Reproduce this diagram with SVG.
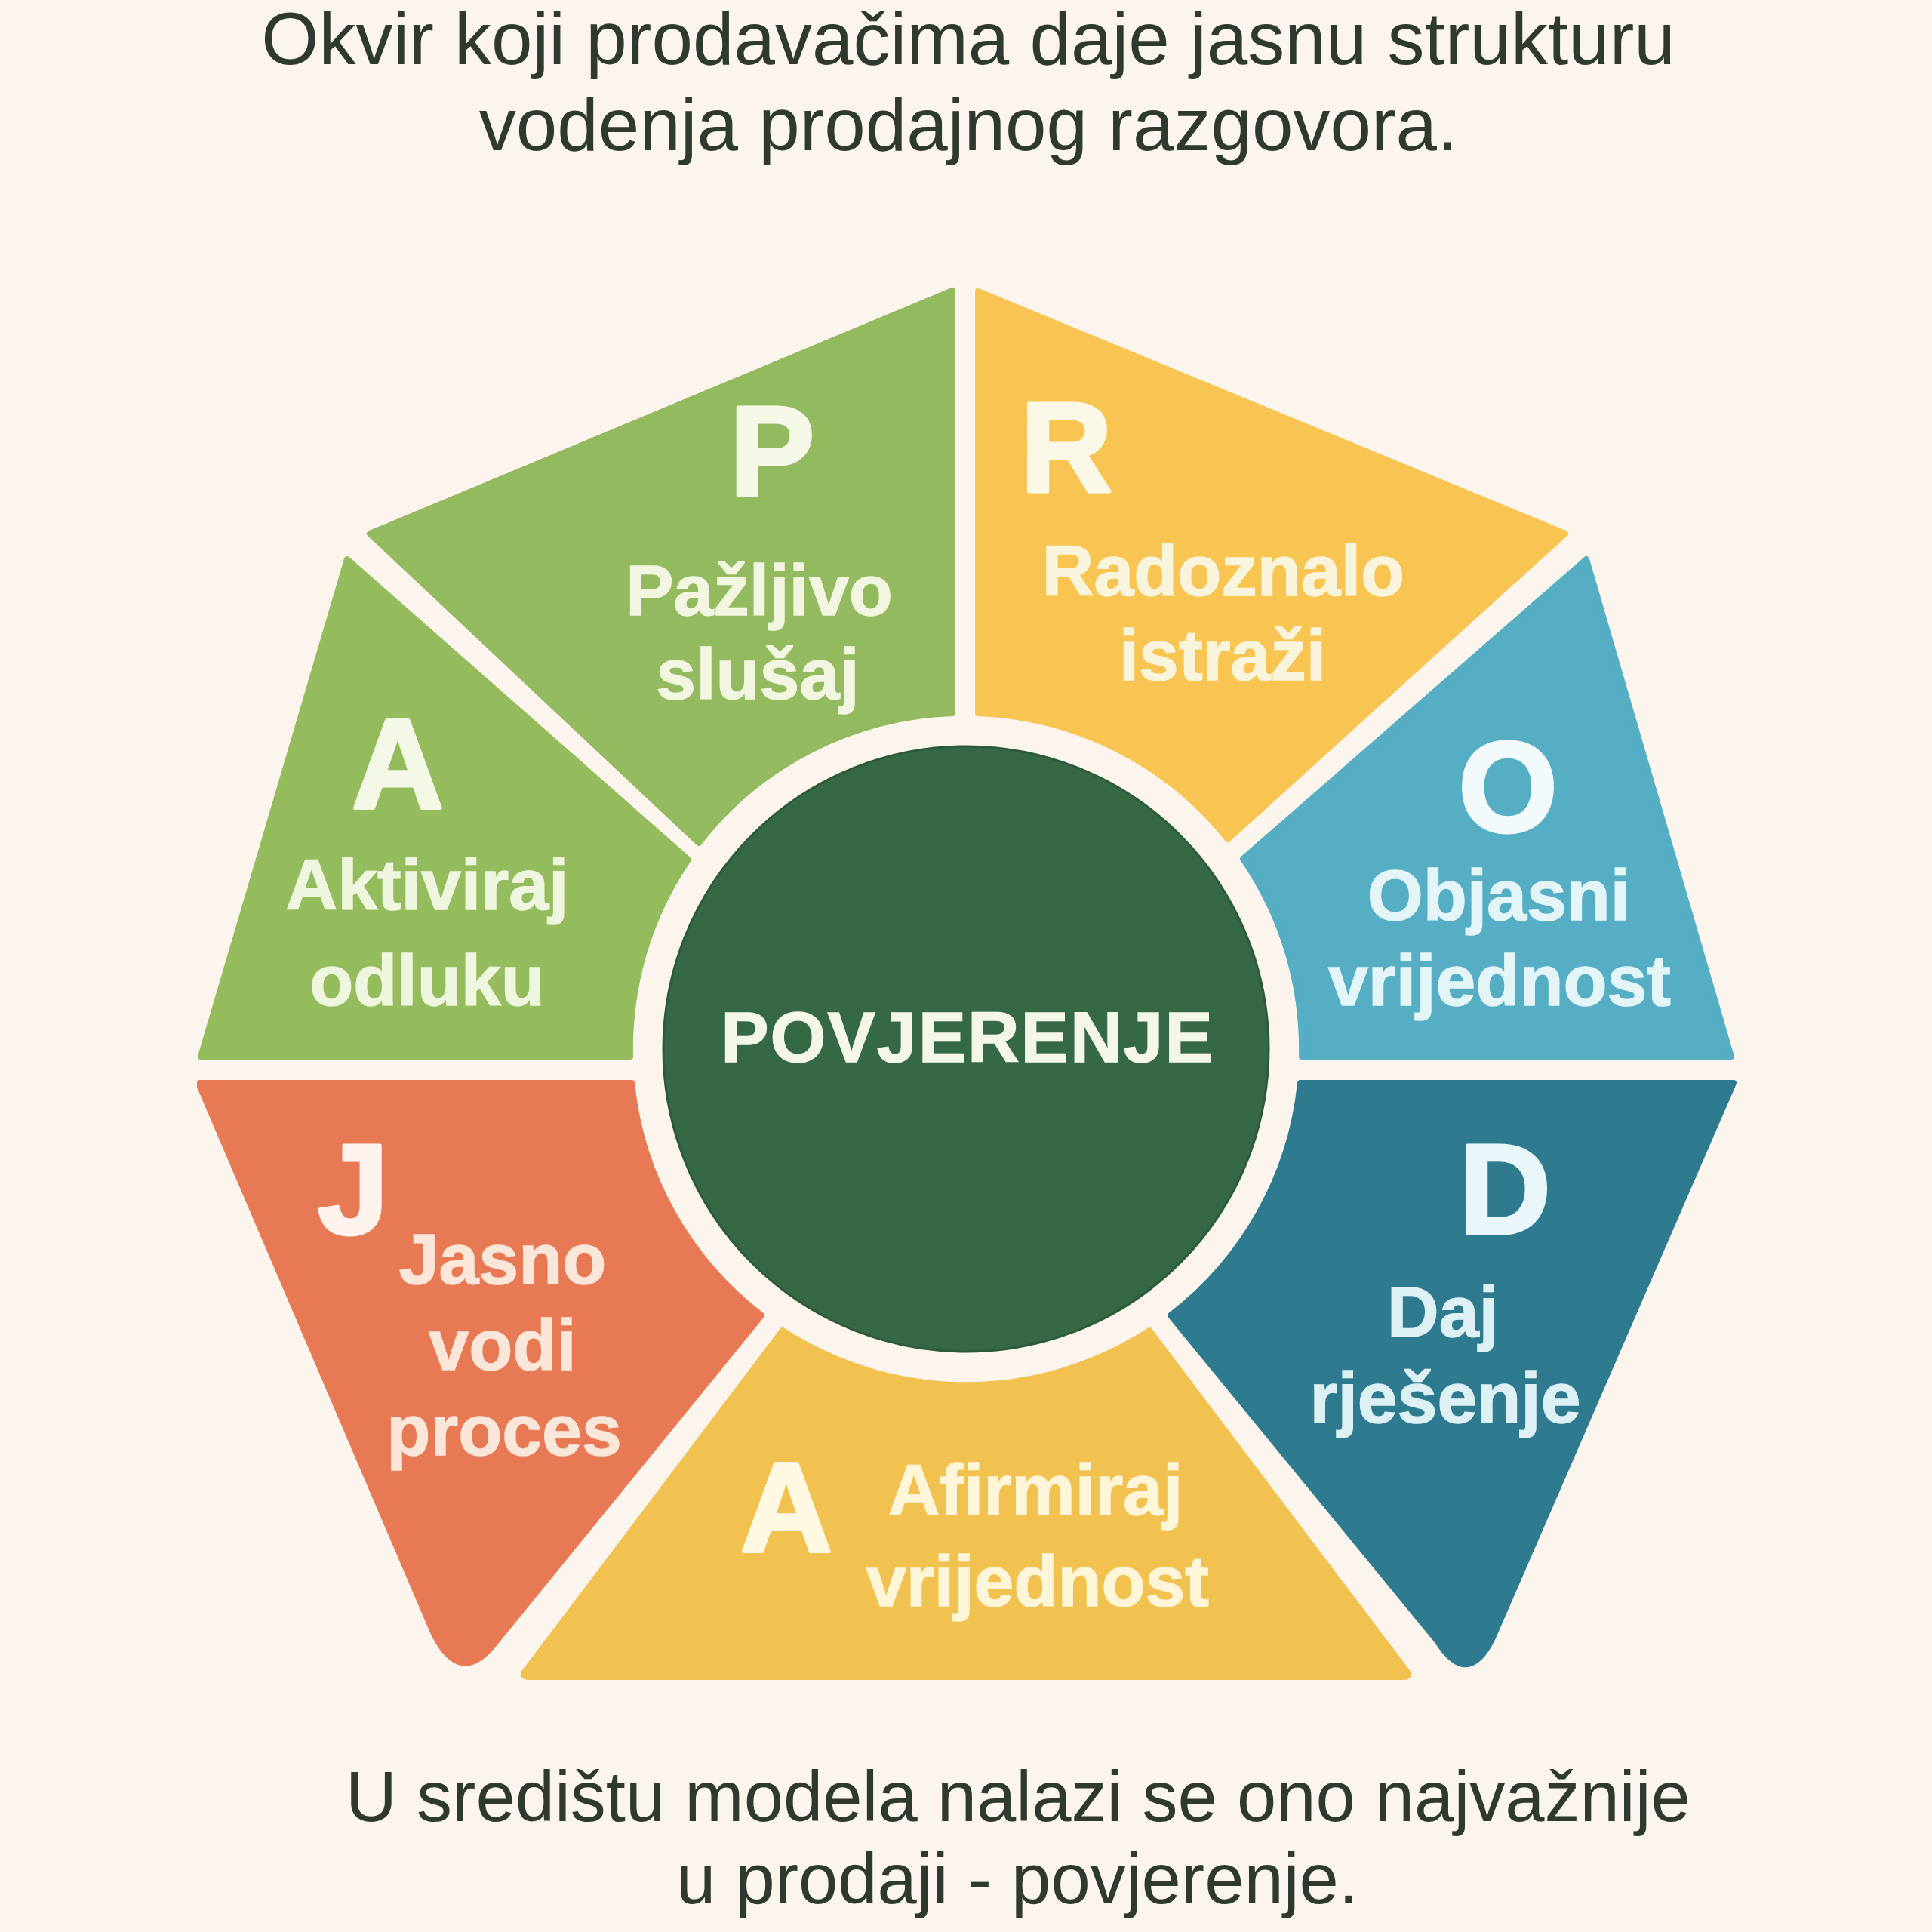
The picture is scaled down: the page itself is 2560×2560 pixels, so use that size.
<svg xmlns="http://www.w3.org/2000/svg" width="2560" height="2560" viewBox="0 0 2560 2560">
<style>
.seg{stroke-width:8;stroke-linejoin:round}
.gP{fill:#93BA5E;stroke:#93BA5E}
.gA{fill:#94BB5C;stroke:#94BB5C}
.yR{fill:#F8C552;stroke:#F8C552}
.bO{fill:#55AEC3;stroke:#55AEC3}
.tD{fill:#2E7B8F;stroke:#2E7B8F}
.yA{fill:#F2C251;stroke:#F2C251}
.oJ{fill:#E77A55;stroke:#E77A55}
.cap{font-family:"Liberation Sans",Arial,sans-serif;font-weight:bold;font-size:168px;text-anchor:middle;stroke-width:5;stroke-linejoin:round}
.lbl{font-family:"Liberation Sans",Arial,sans-serif;font-weight:bold;font-size:95px;text-anchor:middle;stroke-width:1.5}
.title{font-family:"Liberation Sans",Arial,sans-serif;font-size:98px;fill:#2E3A2F;text-anchor:middle}
.foot{font-family:"Liberation Sans",Arial,sans-serif;font-size:94px;fill:#2E3A2F;text-anchor:middle}
</style>
<rect x="0" y="0" width="2560" height="2560" fill="#FBF5EE"/>
<g id="title">
<text class="title" x="1283" y="85">Okvir koji prodavačima daje jasnu strukturu</text>
<text class="title" x="1283" y="199">vodenja prodajnog razgovora.</text>
</g>
<g id="connectors"></g>
<g id="seg-P">
<path class="seg gP" d="M1262 385 L1262 945 A445 445 0 0 0 926 1117 L490 707 Z"/>
<text class="cap" x="1023" y="656" fill="#F4F8E6" stroke="#F4F8E6">P</text>
<text class="lbl" x="1006" y="815" fill="#F2F6E0" stroke="#F2F6E0">Pažljivo</text>
<text class="lbl" x="1004" y="926" fill="#F2F6E0" stroke="#F2F6E0">slušaj</text>
</g>
<g id="seg-R">
<path class="seg yR" d="M1296 386 L2074 707 L1627 1112 A445 445 0 0 0 1296 945 Z"/>
<text class="cap" x="1413" y="651" fill="#FBF8E8" stroke="#FBF8E8">R</text>
<text class="lbl" x="1621" y="789" fill="#F8F5DC" stroke="#F8F5DC">Radoznalo</text>
<text class="lbl" x="1620" y="901" fill="#F8F5DC" stroke="#F8F5DC">istraži</text>
</g>
<g id="seg-O">
<path class="seg bO" d="M2102 741 L2294 1400 L1725 1400 A445 445 0 0 0 1647 1138 Z"/>
<text class="cap" x="1998" y="1101" fill="#F2FAFB" stroke="#F2FAFB">O</text>
<text class="lbl" x="1986" y="1219" fill="#E4F5F7" stroke="#E4F5F7">Objasni</text>
<text class="lbl" x="1987" y="1332" fill="#E4F5F7" stroke="#E4F5F7">vrijednost</text>
</g>
<g id="seg-D">
<path class="seg tD" d="M1723 1435 L2297 1435 L1978 2170 Q1945 2238 1905 2175 L1551 1743 A445 445 0 0 0 1723 1435 Z"/>
<text class="cap" x="1994" y="1634" fill="#EAF7FA" stroke="#EAF7FA">D</text>
<text class="lbl" x="1912" y="1771" fill="#DDF1F5" stroke="#DDF1F5">Daj</text>
<text class="lbl" x="1915" y="1885" fill="#DDF1F5" stroke="#DDF1F5">rješenje</text>
</g>
<g id="seg-A2">
<path class="seg yA" d="M1037 1763 A445 445 0 0 0 1523 1763 L1862 2212 Q1872 2222 1858 2222 L702 2222 Q688 2222 698 2212 Z"/>
<text class="cap" x="1042" y="2056" fill="#FFF8E2" stroke="#FFF8E2">A</text>
<text class="lbl" x="1372" y="2007" fill="#FFF6DA" stroke="#FFF6DA">Afirmiraj</text>
<text class="lbl" x="1375" y="2128" fill="#FFF6DA" stroke="#FFF6DA">vrijednost</text>
</g>
<g id="seg-J">
<path class="seg oJ" d="M265 1435 L837 1435 A445 445 0 0 0 1009 1743 L655 2178 Q610 2235 575 2165 L265 1440 Z"/>
<text class="cap" x="468" y="1634" fill="#FDF3EC" stroke="#FDF3EC">J</text>
<text class="lbl" x="666" y="1701" fill="#FBE6DA" stroke="#FBE6DA">Jasno</text>
<text class="lbl" x="666" y="1815" fill="#FBE6DA" stroke="#FBE6DA">vodi</text>
<text class="lbl" x="668" y="1928" fill="#FBE6DA" stroke="#FBE6DA">proces</text>
</g>
<g id="seg-A1">
<path class="seg gA" d="M460 741 L912 1139 A445 445 0 0 0 835 1400 L266 1400 Z"/>
<text class="cap" x="527" y="1071" fill="#F4F8E6" stroke="#F4F8E6">A</text>
<text class="lbl" x="566" y="1205" fill="#EFF6E0" stroke="#EFF6E0">Aktiviraj</text>
<text class="lbl" x="566" y="1332" fill="#EFF6E0" stroke="#EFF6E0">odluku</text>
</g>
<g id="center">
<circle cx="1280" cy="1390" r="401" fill="#356845" stroke="#2D5A3B" stroke-width="3"/>
<text class="lbl" x="1282" y="1407" font-size="95" letter-spacing="2" fill="#F4F6E8" stroke="#F4F6E8" stroke-width="2">POVJERENJE</text>
</g>
<g id="footer">
<text class="foot" x="1349" y="2413">U središtu modela nalazi se ono najvažnije</text>
<text class="foot" x="1348" y="2522">u prodaji - povjerenje.</text>
</g>
</svg>
